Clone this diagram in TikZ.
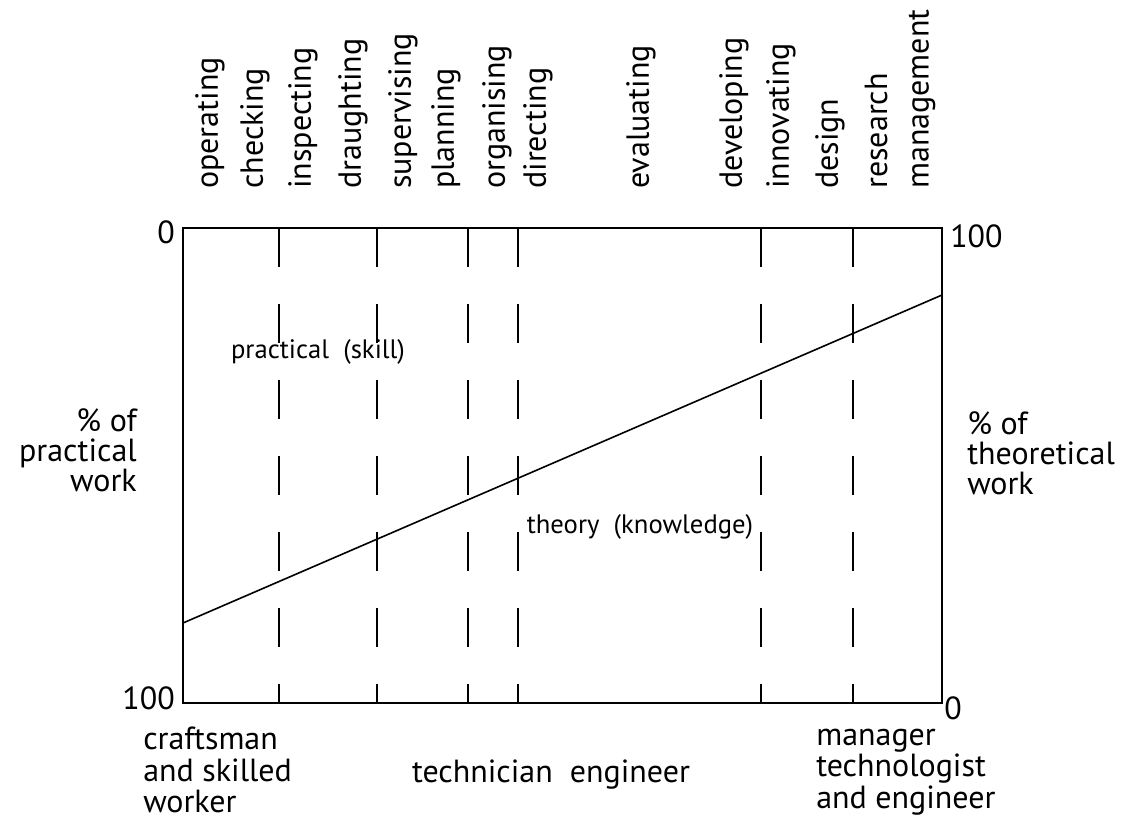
\documentclass[tikz,border=0pt]{standalone}
\usepackage{fontspec}
\setmainfont{PT Sans}
\begin{document}
\begin{tikzpicture}[x=0.75pt,y=-0.75pt,
  lbl/.style={font=\fontsize{24}{23.5}\selectfont, inner sep=0pt},
  vlbl/.style={lbl, rotate=90, anchor=west},
  inlbl/.style={font=\fontsize{20}{21}\selectfont, inner sep=0pt}]
\useasboundingbox (0,0) rectangle (1141,824);
% frame and divisions
\draw[line width=1.2pt] (183,228) rectangle (942,703);
\foreach \x in {279,377,468,518,761,853}
  \draw[line width=1.2pt, dash pattern=on 29pt off 28pt] (\x,228) -- (\x,703);
\coordinate (pleft) at (183,623);
\coordinate (pright) at (942,295);
\draw[line width=1.2pt] (pleft) -- (pright);
% activities
\foreach \x/\t in {210/operating,255/checking,303/inspecting,353/draughting,
  403/supervising,446/planning,497/organising,538/directing,641/evaluating,
  734/developing,781/innovating,830/design,876/research,922/management}
  \node[vlbl] (act-\t) at (\x,189) {\t};
% scales
\node[lbl, anchor=east] (ltop) at (175,232) {0};
\node[lbl, anchor=east] (lbot) at (175,698) {100};
\node[lbl, anchor=west] (rtop) at (950,236) {100};
\node[lbl, anchor=west] (rbot) at (944,708) {0};
\node[lbl, anchor=east, align=right, font=\fontsize{24}{22.5}\selectfont] (pract) at (137,450) {\% of\\practical\\work};
\node[lbl, anchor=west, align=left, font=\fontsize{24}{22.5}\selectfont] (theor) at (967,453) {\% of\\theoretical\\work};
% regions
\node[inlbl] (skill) at (318,352) {practical\ \ (skill)};
\node[inlbl] (know) at (640,527) {theory\ \ (knowledge)};
% grades
\node[lbl, anchor=north west, align=left] (craft) at (143,727) {craftsman\\and skilled\\worker};
\node[lbl] (tech) at (551,775) {technician\ \ engineer};
\node[lbl, anchor=north west, align=left] (mgr) at (816,729) {manager\\technologist\\and engineer};
\end{tikzpicture}
\end{document}
